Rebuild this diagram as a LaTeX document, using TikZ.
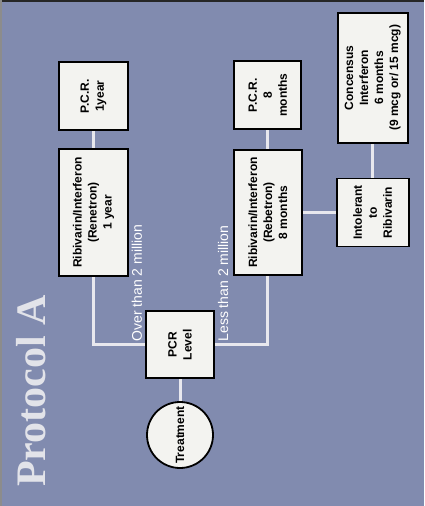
\documentclass[tikz,border=0pt]{standalone}
\usepackage{fontspec}
\setmainfont{Liberation Serif}
\setsansfont{Liberation Sans}
\usetikzlibrary{positioning, backgrounds}
\definecolor{slate}{RGB}{129,139,175}
\definecolor{paper}{RGB}{243,243,240}
\definecolor{wire}{RGB}{232,232,238}
\definecolor{chalk}{RGB}{226,227,233}

\begin{document}
\begin{tikzpicture}[
    x=1pt, y=1pt,
    box/.style={rectangle, draw=black, line width=1.8pt, fill=paper, align=center, inner sep=2pt, font=\sffamily\bfseries\fontsize{12}{15}\selectfont},
    link/.style={draw=wire, line width=3pt},
    lbl/.style={text=white, inner sep=1pt, font=\sffamily\fontsize{14}{16}\selectfont}
]
\useasboundingbox (0,0) rectangle (424,-506);
% whole chart is printed sideways
\begin{scope}[shift={(0,-506)}, rotate=90, transform shape]
\node[text=chalk, anchor=base west, inner sep=0pt, font=\bfseries\fontsize{42}{46}\selectfont] (title) at (19,-45) {Protocol A};
\node[box, circle, minimum size=66pt] (treat) at (71,-180) {Treatment};
\node[box, minimum width=67pt, minimum height=68pt, right=22pt of treat] (pcr) {PCR\\Level};
\node[box, minimum width=127pt, minimum height=69pt] (ren) at (293.5,-93.5) {Ribivarin/Interferon\\(Renetron)\\1 year};
\node[box, minimum width=68pt, minimum height=69pt, right=17pt of ren] (pcryear) {P.C.R.\\1year};
\node[box, minimum width=125pt, minimum height=68pt, below=104pt of ren] (reb) {Ribivarin/Interferon\\(Rebetron)\\8 months};
\node[box, minimum width=68pt, minimum height=67pt, right=19pt of reb] (pcrmonths) {P.C.R.\\8\\months};
\node[box, minimum width=68pt, minimum height=72pt, below=33pt of reb] (intol) {Intolerant\\to\\Ribivarin};
\node[box, minimum width=130pt, minimum height=70pt, right=34pt of intol] (cons) {Concensus\\Interferon\\6 months\\(9 mcg or/ 15 mcg)};
\node[lbl, anchor=south west] (over) at ([xshift=2pt, yshift=2pt]pcr.north) {Over than 2 million};
\node[lbl, anchor=north west] (less) at ([xshift=2pt, yshift=-2pt]pcr.south) {Less than 2 million};
\end{scope}
\begin{scope}[on background layer]
\fill[slate] (0,0) rectangle (424,-506);
\draw[black!85, line width=2.5pt] (0,-1) -- (424,-1);
\draw[black!45, line width=1.5pt] (0.75,0) -- (0.75,-506);
\draw[link] (treat) -- (pcr);
\draw[link] (pcr.north) -| (ren.west);
\draw[link] (pcr.south) -| (reb.west);
\draw[link] (ren) -- (pcryear);
\draw[link] (reb) -- (pcrmonths);
\draw[link] (reb) -- (intol);
\draw[link] (intol) -- (cons);
\end{scope}
\end{tikzpicture}
\end{document}
